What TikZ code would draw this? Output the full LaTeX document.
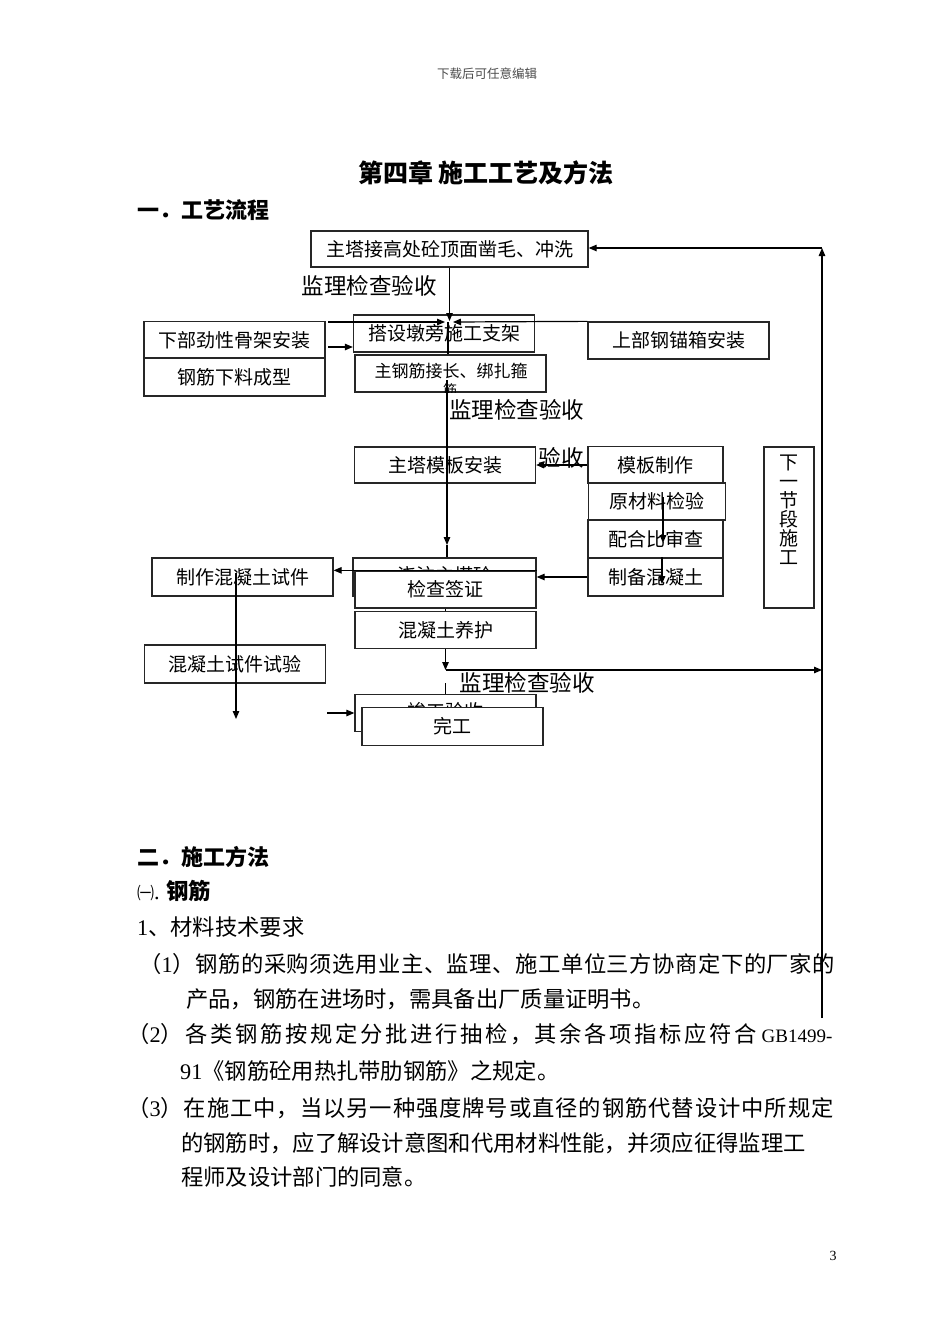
\documentclass[tikz,border=0pt]{standalone}
\usepackage{fontspec}
\setmainfont{Noto Sans CJK SC}
\newfontfamily\latinfont{Liberation Serif}
\newcommand\lat[1]{{\latinfont #1}}
\usetikzlibrary{arrows.meta}
\tikzset{
  box/.style={draw=black!85, line width=1.3pt, inner sep=0pt, font=\fontsize{19}{22}\selectfont},
  wbox/.style={box, fill=white},
  btxt/.style={inner sep=0pt, font=\fontsize{19}{22}\selectfont},
  lbl/.style={inner sep=0pt, font=\fontsize{22.5}{26}\selectfont},
  arr/.style={line width=1.2pt, -{Triangle[length=8pt,width=6.5pt]}},
  ln/.style={line width=1.2pt},
  body/.style={anchor=west, inner sep=0pt, font=\fontsize{22.3}{26}\selectfont},
  head/.style={anchor=west, inner sep=0pt, font=\fontsize{22}{26}\selectfont\bfseries}
}
\begin{document}
\begin{tikzpicture}[x=1pt,y=-1pt]
\useasboundingbox (0,0) rectangle (950,1344);
\fill[white] (0,0) rectangle (950,1344);

% header and titles
\node[inner sep=0pt, font=\fontsize{12.5}{14}\selectfont, text=black!70] (hd) at (487,74) {下载后可任意编辑};
\node[inner sep=0pt, font=\fontsize{25}{28}\selectfont\bfseries] (tt) at (486,173) {第四章 施工工艺及方法};
\node[head] (s1) at (137,210) {一．工艺流程};

% flowchart boxes
\node[box, minimum width=277, minimum height=36] (b1) at (449.5,249) {主塔接高处砼顶面凿毛、冲洗};
\node[lbl] (l1) at (369,286) {监理检查验收};
\node[box, minimum width=181, minimum height=37] (b2) at (444,333.5) {搭设墩旁施工支架};
\node[box, minimum width=181, minimum height=37] (up) at (678.5,340.5) {上部钢锚箱安装};
\node[box, minimum width=181, minimum height=37] (xj) at (234.5,340) {下部劲性骨架安装};
\node[box, minimum width=181, minimum height=38] (gx) at (234.5,377) {钢筋下料成型};
\node[box, minimum width=191, minimum height=37] (b3) at (450.5,373.5) {};
\node[inner sep=0pt, font=\fontsize{17}{20}\selectfont] (b3t) at (451,371) {主钢筋接长、绑扎箍};
\begin{scope}
\clip (b3.south west) rectangle (b3.north east);
\node[inner sep=0pt, font=\fontsize{14}{16}\selectfont] (b3j) at (450,390) {筋};
\end{scope}
\node[lbl] (l2) at (516.5,410) {监理检查验收};
\node[box, minimum width=181, minimum height=36] (b4) at (445,465) {主塔模板安装};
\node[lbl] (l2b) at (561,458) {验收};
\node[box, minimum width=135, minimum height=37] (mb) at (655.5,465) {模板制作};
\node[box, minimum width=137, minimum height=37] (yc) at (657,501.5) {原材料检验};
\node[box, minimum width=135, minimum height=38] (ph) at (655.5,539) {配合比审查};
\node[box, minimum width=135, minimum height=38] (zb) at (655.5,577) {制备混凝土};
\node[box, minimum width=50, minimum height=161] (nx) at (789,527.5) {};
\node[inner sep=0pt, align=center, font=\fontsize{19}{19}\selectfont] (nxt) at (789,510) {下\\一\\节\\段\\施\\工};
\node[box, minimum width=183, minimum height=38] (b5) at (444.5,577) {};
\node[btxt] (b5t) at (445,575) {浇注主塔砼};
\node[wbox, minimum width=181, minimum height=37] (jc) at (445.5,589.5) {检查签证};
\node[box, minimum width=181, minimum height=38] (zz) at (242.5,577) {制作混凝土试件};
\node[box, minimum width=181, minimum height=37] (yh) at (445.5,630) {混凝土养护};
\node[box, minimum width=181, minimum height=38] (sy) at (235,664) {混凝土试件试验};
\node[lbl] (l3) at (527,683) {监理检查验收};
\node[box, minimum width=181, minimum height=37] (jg) at (445.5,713) {};
\node[btxt] (jgt) at (445.5,711) {竣工验收};
\node[wbox, minimum width=181, minimum height=38] (wg) at (452.5,726.5) {完工};

% connector coordinates
\coordinate (jA) at (449.5,321);
\coordinate (hL) at (328,322);
\coordinate (hLe) at (445,322);
\coordinate (hRe) at (453,322);
\coordinate (lA) at (328,347);
\coordinate (v0) at (448,322);
\coordinate (v1) at (447,380);
\coordinate (v2) at (447,545);
\coordinate (r1) at (663,497);
\coordinate (r2) at (663,543);
\coordinate (r3) at (662,584);
\coordinate (s1) at (236,573);
\coordinate (s2) at (236,719);
\coordinate (t1) at (445.5,670);
\coordinate (t2) at (822,670);
\coordinate (t3) at (445.5,683);
\coordinate (w1) at (327,713);
\coordinate (lp1) at (822,1018);
\coordinate (lp2) at (822,248);

% connectors
\draw[arr] (b1.south) -- (jA);
\draw[arr] (hL) -- (hLe);
\draw[arr] (up.north west) -- (hRe);
\draw[arr] (lA) -- (lA -| b2.west);
\draw[ln] (v0) -- (v0 |- b3.north);
\draw[arr] (v1) -- (v2);
\draw[ln] (v2) -- (v2 |- b5.north);
\draw[arr] (mb.west) -- (mb.west -| b4.east);
\draw[arr] (r1) -- (r2);
\draw[arr] (zb.north -| r3) -- (r3);
\draw[arr] (zb.west) -- (zb.west -| jc.east);
\draw[arr] (jc.north east) -- (jc.north east -| zz.east);
\draw[arr] (s1) -- (s2);
\draw[ln] (jc.south) -- (yh.north);
\draw[arr] (yh.south) -- (t1);
\draw[arr] (t1) -- (t2);
\draw[ln] (t3) -- (jg.north);
\draw[arr] (w1) -- (w1 -| jg.west);
\draw[arr] (lp1) -- (lp2);
\draw[arr] (lp2) -- (lp2 -| b1.east);

% body text
\node[head] (s2) at (137,857) {二．施工方法};
\node[body] (s3) at (137,891) {{\fontsize{17}{20}\selectfont ㈠}\lat{.} \textbf{钢筋}};
\node[body] (s4) at (137,927) {\lat{1}、材料技术要求};
\node[body] (p1) at (139,964) {\addfontfeature{LetterSpace=2.5}（\lat{1}）钢筋的采购须选用业主、监理、施工单位三方协商定下的厂家的};
\node[body] (p1b) at (186,999) {产品，钢筋在进场时，需具备出厂质量证明书。};
\node[body] (p2) at (127,1034) {{\addfontfeature{LetterSpace=11.9}（\lat{2}）各类钢筋按规定分批进行抽检，其余各项指标应符合}{\fontsize{19}{22}\selectfont\lat{ GB1499-}}};
\node[body] (p2b) at (180,1071) {\lat{91}《钢筋砼用热扎带肋钢筋》之规定。};
\node[body] (p3) at (127,1108) {\addfontfeature{LetterSpace=4.2}（\lat{3}）在施工中，当以另一种强度牌号或直径的钢筋代替设计中所规定};
\node[body] (p3b) at (181,1143) {的钢筋时，应了解设计意图和代用材料性能，并须应征得监理工};
\node[body] (p3c) at (181,1177) {程师及设计部门的同意。};
\node[inner sep=0pt, font=\fontsize{14}{16}\selectfont\latinfont] (pg) at (833,1256) {3};
\end{tikzpicture}
\end{document}
